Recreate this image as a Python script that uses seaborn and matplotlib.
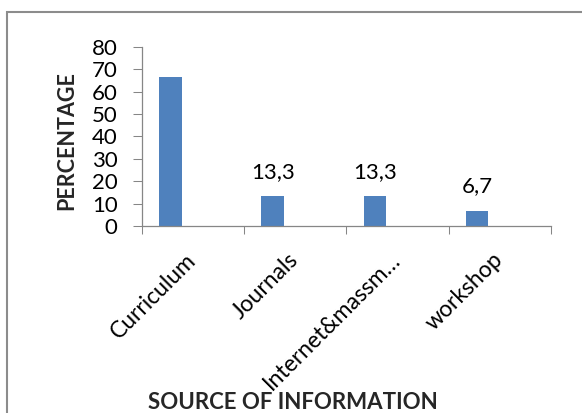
import numpy as np
import pandas as pd
import matplotlib
matplotlib.use("Agg")
import matplotlib.pyplot as plt
import seaborn as sns
from matplotlib.patches import Rectangle

# data
categories = ["Curriculum", "Journals", "Internet&massm…", "workshop"]
series_names = ["Series1", "Series2", "Series3"]
percent_s1 = [66.7, 13.3, 13.3, 6.7]
percent_s2 = [0, 0, 0, 0]
percent_s3 = [0, 0, 0, 0]
show_label = [False, True, True, True]
y_ticks = [0, 10, 20, 30, 40, 50, 60, 70, 80]

sns.set_theme(style="white")
plt.rcParams['font.family'] = ['Lato', 'DejaVu Sans']

df = pd.DataFrame({
    "source": categories * 3,
    "series": np.repeat(series_names, len(categories)),
    "percent": percent_s1 + percent_s2 + percent_s3,
})

fig = plt.figure(figsize=(5.82, 4.13), dpi=100)
ax = fig.add_axes([0.244, 0.4528, 0.7027, 0.4334])

blue = "#4F81BD"
gray = "#868686"
sns.barplot(data=df, x="source", y="percent", hue="series", hue_order=series_names,
            order=categories, palette=[blue, blue, blue], width=0.667,
            saturation=1, linewidth=0, legend=False, ax=ax)

# data labels (decimal comma)
labels = [f"{v:.1f}".replace(".", ",") if s else "" for v, s in zip(percent_s1, show_label)]
ax.bar_label(ax.containers[0], labels=labels, padding=10.5, fontsize=16, color="black")

ax.set_xlim(-0.5, len(categories) - 0.5)
ax.set_ylim(0, 80)
ax.set_yticks(y_ticks)
ax.tick_params(axis="y", which="major", direction="out", length=6.5, width=0.75,
               color=gray, pad=11, labelsize=16, left=True, labelcolor="black")

# category labels centred, tick marks between categories
ax.set_xticks(range(len(categories)))
ax.set_xticklabels(categories, rotation=45, ha="right", rotation_mode="anchor", va="center")
ax.set_xticks(np.arange(-0.5, len(categories)), minor=True)
ax.tick_params(axis="x", which="major", length=0, pad=22, labelsize=16.5, labelcolor="black")
ax.tick_params(axis="x", which="minor", direction="out", length=5.5, width=0.75,
               color=gray, bottom=True)

for side in ["top", "right"]:
    ax.spines[side].set_visible(False)
for side in ["left", "bottom"]:
    ax.spines[side].set_color(gray)
    ax.spines[side].set_linewidth(0.9)

ax.set_xlabel("SOURCE OF INFORMATION", fontsize=16, fontweight="bold", va="top")
ax.xaxis.set_label_coords(0.369, -0.925)
ax.set_ylabel("PERCENTAGE", fontsize=15.5, fontweight="bold")
ax.yaxis.set_label_coords(-0.158, 0.48)
ax.grid(False)

# chart area border
fig.patches.append(Rectangle((7 / 582, -0.1), 1.2, 1.1 - 12 / 413,
                             transform=fig.transFigure, fill=False,
                             edgecolor="#8c8c8c", linewidth=1.5))

fig.savefig("out.png", dpi=100)
